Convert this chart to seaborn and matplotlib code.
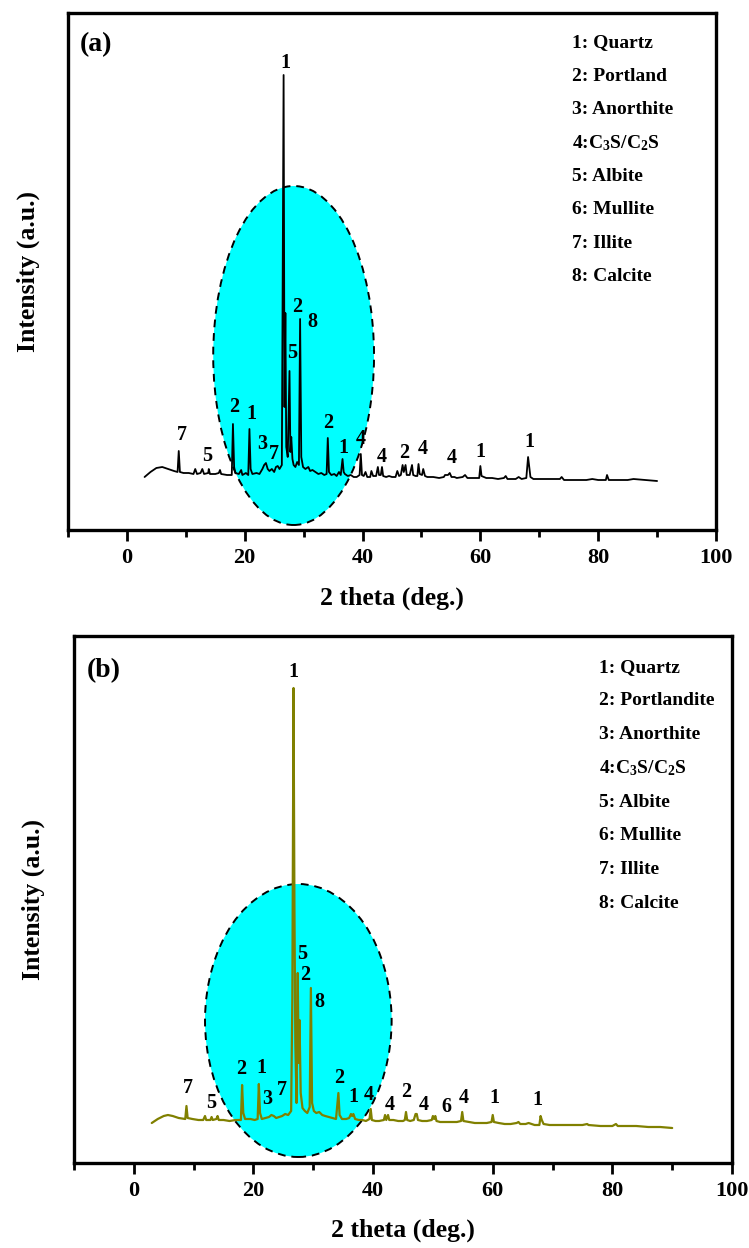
import matplotlib
matplotlib.use("Agg")
import matplotlib.pyplot as plt
from matplotlib.patches import Ellipse
from matplotlib.ticker import MultipleLocator
import seaborn as sns
import pandas as pd

# ---------------- data ----------------
# panel (a): 2theta (deg) and intensity (a.u.)
tt_a = [3.0, 4.0, 5.0, 6.0, 7.0, 8.0, 8.6, 8.8, 9.0, 9.6, 10.5, 11.3, 11.6, 11.9, 12.5, 12.8, 13.1, 13.8, 13.9, 14.1,
        15.0, 15.6, 15.8, 16.0, 17.0, 17.8, 18.0, 18.2, 18.4, 19.0, 19.4, 19.6, 20.2, 20.6, 20.8, 21.0, 21.3, 22.0, 22.5,
        23.0, 23.3, 23.6, 23.9, 24.2, 24.6, 25.0, 25.3, 25.6, 25.9, 26.3, 26.6, 26.75, 26.9, 27.05, 27.3, 27.6, 27.75,
        27.9, 28.1, 28.3, 28.6, 28.9, 29.2, 29.4, 29.6, 29.9, 30.3, 30.8, 31.1, 31.5, 32.0, 32.5, 33.0, 33.5, 33.9, 34.1,
        34.3, 34.7, 35.2, 35.6, 36.0, 36.3, 36.6, 36.8, 37.0, 37.5, 38.0, 38.5, 39.0, 39.5, 39.7, 39.9, 40.2, 40.5, 40.8,
        41.3, 41.5, 41.8, 42.3, 42.6, 42.8, 43.1, 43.3, 43.5, 44.0, 44.5, 45.0, 45.6, 45.9, 46.2, 46.5, 46.8, 47.0, 47.3,
        47.5, 48.0, 48.4, 48.6, 49.0, 49.3, 49.5, 49.7, 50.1, 50.3, 50.6, 51.0, 52.0, 53.0, 53.8, 54.0, 54.5, 54.8, 55.1,
        55.6, 56.0, 57.0, 57.4, 57.8, 59.0, 59.8, 60.0, 60.2, 60.6, 61.0, 62.0, 63.0, 64.0, 64.3, 64.6, 66.0, 66.5, 67.0,
        67.8, 68.1, 68.3, 68.5, 69.0, 70.0, 72.0, 73.5, 73.8, 74.2, 76.0, 78.0, 79.0, 80.0, 81.3, 81.5, 81.8, 83.0, 85.0,
        86.0, 88.0, 90.0]
int_a = [50, 55, 59, 60, 58, 56, 55, 76, 55, 54, 54, 53, 58, 53, 54, 58, 53, 54, 58, 53,
         53, 54, 57, 53, 52, 52, 103, 60, 54, 53, 57, 52, 54, 52, 98, 58, 53, 54, 53,
         58, 62, 64, 58, 56, 58, 55, 60, 61, 58, 62, 452, 120, 214, 80, 70, 156, 75,
         90, 68, 62, 60, 65, 62, 208, 70, 60, 58, 60, 56, 57, 55, 53, 54, 52, 53, 89,
         55, 52, 53, 51, 55, 52, 68, 55, 53, 51, 52, 50, 50, 52, 73, 52, 51, 55, 50,
         50, 56, 51, 51, 60, 52, 52, 60, 51, 50, 51, 50, 50, 56, 51, 52, 62, 55, 62,
         52, 52, 62, 52, 51, 51, 63, 53, 52, 58, 51, 50, 50, 49, 50, 52, 52, 54, 50,
         50, 49, 50, 52, 49, 49, 49, 61, 51, 50, 49, 49, 48, 49, 51, 48, 48, 50, 48,
         49, 70, 60, 50, 48, 48, 48, 48, 50, 47, 47, 47, 48, 47, 47, 52, 47, 47, 47,
         48, 47, 46]

# panel (b)
tt_b = [3.0, 4.0, 5.0, 5.7, 6.5, 7.5, 8.6, 8.8, 9.0, 9.8, 10.8, 11.6, 11.9, 12.1, 12.8, 13.0, 13.2, 13.8, 14.0, 14.2,
        15.0, 16.0, 17.0, 17.9, 18.1, 18.3, 18.6, 19.5, 20.2, 20.7, 20.9, 21.1, 21.4, 22.0, 22.6, 23.0, 23.4, 23.8, 24.3,
        24.8, 25.3, 25.8, 26.3, 26.5, 26.7, 26.85, 27.0, 27.2, 27.4, 27.55, 27.7, 27.9, 28.2, 28.6, 29.0, 29.4, 29.6,
        29.8, 30.1, 30.5, 31.0, 31.5, 32.0, 32.6, 33.2, 33.8, 34.2, 34.4, 34.8, 35.5, 36.0, 36.3, 36.5, 36.7, 37.0, 37.6,
        38.2, 38.8, 39.4, 39.6, 39.8, 40.4, 41.0, 41.8, 42.0, 42.2, 42.5, 42.7, 43.4, 44.2, 45.0, 45.3, 45.5, 45.7, 46.2,
        46.8, 47.1, 47.3, 47.5, 48.2, 49.0, 49.8, 50.0, 50.2, 50.4, 50.6, 51.2, 52.0, 53.0, 54.0, 54.7, 54.9, 55.1, 56.0,
        57.0, 58.0, 59.0, 59.8, 60.0, 60.2, 61.0, 62.0, 63.0, 64.0, 64.3, 64.6, 65.5, 66.0, 67.0, 67.8, 68.0, 68.2, 68.5,
        69.5, 71.0, 73.0, 75.0, 75.8, 76.0, 78.0, 80.0, 80.6, 80.9, 83.0, 84.0, 86.0, 88.0, 90.0]
int_b = [40, 44, 47, 48, 47, 45, 44, 57, 45, 44, 43, 43, 47, 43, 43, 46, 43, 44, 47, 43,
         43, 42, 43, 43, 78, 50, 44, 44, 43, 44, 79, 50, 44, 45, 46, 48, 47, 45, 46,
         47, 49, 48, 52, 165, 475, 256, 120, 60, 190, 100, 143, 70, 55, 52, 50, 56, 175,
         60, 52, 50, 51, 48, 47, 46, 45, 44, 70, 48, 44, 44, 45, 49, 47, 49, 44, 43,
         43, 42, 44, 54, 43, 42, 42, 43, 48, 43, 48, 43, 43, 42, 42, 43, 51, 43, 42,
         43, 49, 49, 43, 42, 42, 43, 47, 44, 47, 42, 41, 41, 41, 41, 42, 51, 42, 41,
         40, 40, 40, 41, 48, 41, 40, 39, 39, 40, 41, 39, 39, 40, 38, 38, 47, 43, 39,
         38, 38, 38, 38, 39, 38, 37, 37, 39, 37, 37, 37, 36, 36, 35]

# peak labels (phase number, 2theta, height)
lab_a_txt = ["1", "2", "8", "5", "2", "1", "3", "7", "7", "5", "2", "1", "4", "4", "2", "4", "4", "1", "1"]
lab_a_x = [26.9, 28.9, 31.5, 28.05, 18.2, 21.1, 23.0, 25.0, 9.3, 13.6, 34.1, 36.7, 39.7, 43.2, 47.0, 50.3, 55.1, 60.0, 68.4]
lab_a_y = [464, 220, 205, 174, 120, 113, 83, 73, 92, 71, 104, 79, 88, 70, 74, 78, 69, 75, 85]

lab_b_txt = ["1", "5", "2", "8", "2", "1", "3", "7", "7", "5", "2", "1", "4", "4", "2", "4", "6", "4", "1", "1"]
lab_b_x = [26.6, 28.2, 28.7, 31.1, 18.0, 21.4, 22.3, 24.7, 9.1, 13.0, 34.4, 36.7, 39.3, 42.8, 45.6, 48.5, 52.3, 55.2, 60.3, 67.4]
lab_b_y = [491, 209, 188, 161, 94, 95, 64, 73, 75, 60, 85, 66, 68, 58, 71, 58, 56, 65, 65, 63]

phases_a = ["1: Quartz", "2: Portland", "3: Anorthite", "4:C$_{\\mathbf{3}}$S/C$_{\\mathbf{2}}$S",
            "5: Albite", "6: Mullite", "7: Illite", "8: Calcite"]
phases_b = ["1: Quartz", "2: Portlandite", "3: Anorthite", "4:C$_{\\mathbf{3}}$S/C$_{\\mathbf{2}}$S",
            "5: Albite", "6: Mullite", "7: Illite", "8: Calcite"]

x_ticks = [0, 20, 40, 60, 80, 100]

# ---------------- styling ----------------
sns.set_theme(style="white")
plt.rcParams["font.family"] = ["Liberation Serif", "DejaVu Serif"]
plt.rcParams["font.weight"] = "bold"
plt.rcParams["text.color"] = "black"
plt.rcParams["axes.labelcolor"] = "black"
plt.rcParams["xtick.color"] = "black"
plt.rcParams["ytick.color"] = "black"
plt.rcParams["mathtext.fontset"] = "custom"
plt.rcParams["mathtext.rm"] = "Liberation Serif:bold"
plt.rcParams["mathtext.bf"] = "Liberation Serif:bold"
plt.rcParams["mathtext.it"] = "Liberation Serif:bold"

W, H = 749, 1248
fig = plt.figure(figsize=(W / 100, H / 100), dpi=100)

def px_axes(l, r, t, b):
    return [l / W, 1 - b / H, (r - l) / W, (b - t) / H]

panels = [
    dict(rect=px_axes(68, 716, 13, 530), tt=tt_a, it=int_a, color="black", lw=1.3, ylim=(-3, 514),
         ell=(28.3, 171.5, 27.3, 339), tag="(a)", tagpos=(0.018, 0.938),
         ltxt=lab_a_txt, lx=lab_a_x, ly=lab_a_y, phases=phases_a, leg=(0.778, 0.942, 0.0646),
         ylab=(28, 272), xlab=(392, 598)),
    dict(rect=px_axes(74, 732, 636, 1163), tt=tt_b, it=int_b, color="#808000", lw=1.6, ylim=(0, 527),
         ell=(27.5, 142.5, 31.2, 273), tag="(b)", tagpos=(0.020, 0.935),
         ltxt=lab_b_txt, lx=lab_b_x, ly=lab_b_y, phases=phases_b, leg=(0.798, 0.941, 0.064),
         ylab=(33, 900), xlab=(403, 1230)),
]

for p in panels:
    ax = fig.add_axes(p["rect"])
    ex, ey, ew, eh = p["ell"]
    ax.add_patch(Ellipse((ex, ey), ew, eh, facecolor="#00FFFF", edgecolor="black",
                         linestyle=(0, (4, 3)), linewidth=1.4, zorder=1))
    df = pd.DataFrame({"tt": p["tt"], "I": p["it"]})
    sns.lineplot(data=df, x="tt", y="I", ax=ax, color=p["color"], linewidth=p["lw"],
                 estimator=None, sort=False, zorder=3)
    ax.set_xlim(-10, 100)
    ax.set_ylim(*p["ylim"])
    ax.set_xticks(x_ticks)
    ax.xaxis.set_minor_locator(MultipleLocator(10))
    ax.set_yticks([])
    ax.set_xlabel("")
    ax.set_ylabel("")
    ax.tick_params(axis="x", which="major", direction="out", length=8, width=2, labelsize=16, pad=5,
                   bottom=True, top=False, colors="black")
    ax.tick_params(axis="x", which="minor", direction="out", length=5, width=2, bottom=True, top=False,
                   colors="black")
    for lab in ax.get_xticklabels():
        lab.set_fontweight("bold")
    for s in ax.spines.values():
        s.set_linewidth(2.4)
        s.set_color("black")
    ax.text(p["tagpos"][0], p["tagpos"][1], p["tag"], transform=ax.transAxes, fontsize=20,
            fontweight="bold", ha="left", va="center", color="black")
    for t, x, y in zip(p["ltxt"], p["lx"], p["ly"]):
        ax.text(x, y, t, fontsize=14.5, fontweight="bold", ha="center", va="center", zorder=4,
                color="black")
    lx0, ly0, dy = p["leg"]
    for i, ph in enumerate(p["phases"]):
        ax.text(lx0, ly0 - i * dy, ph, transform=ax.transAxes, fontsize=14, fontweight="bold",
                ha="left", va="center", color="black")
    fig.text(p["ylab"][0] / W, 1 - p["ylab"][1] / H, "Intensity (a.u.)", rotation=90, fontsize=18.5,
             fontweight="bold", ha="center", va="center", color="black")
    fig.text(p["xlab"][0] / W, 1 - p["xlab"][1] / H, "2 theta (deg.)", fontsize=18.5,
             fontweight="bold", ha="center", va="center", color="black")

fig.savefig("out.png", dpi=100, facecolor="white")
